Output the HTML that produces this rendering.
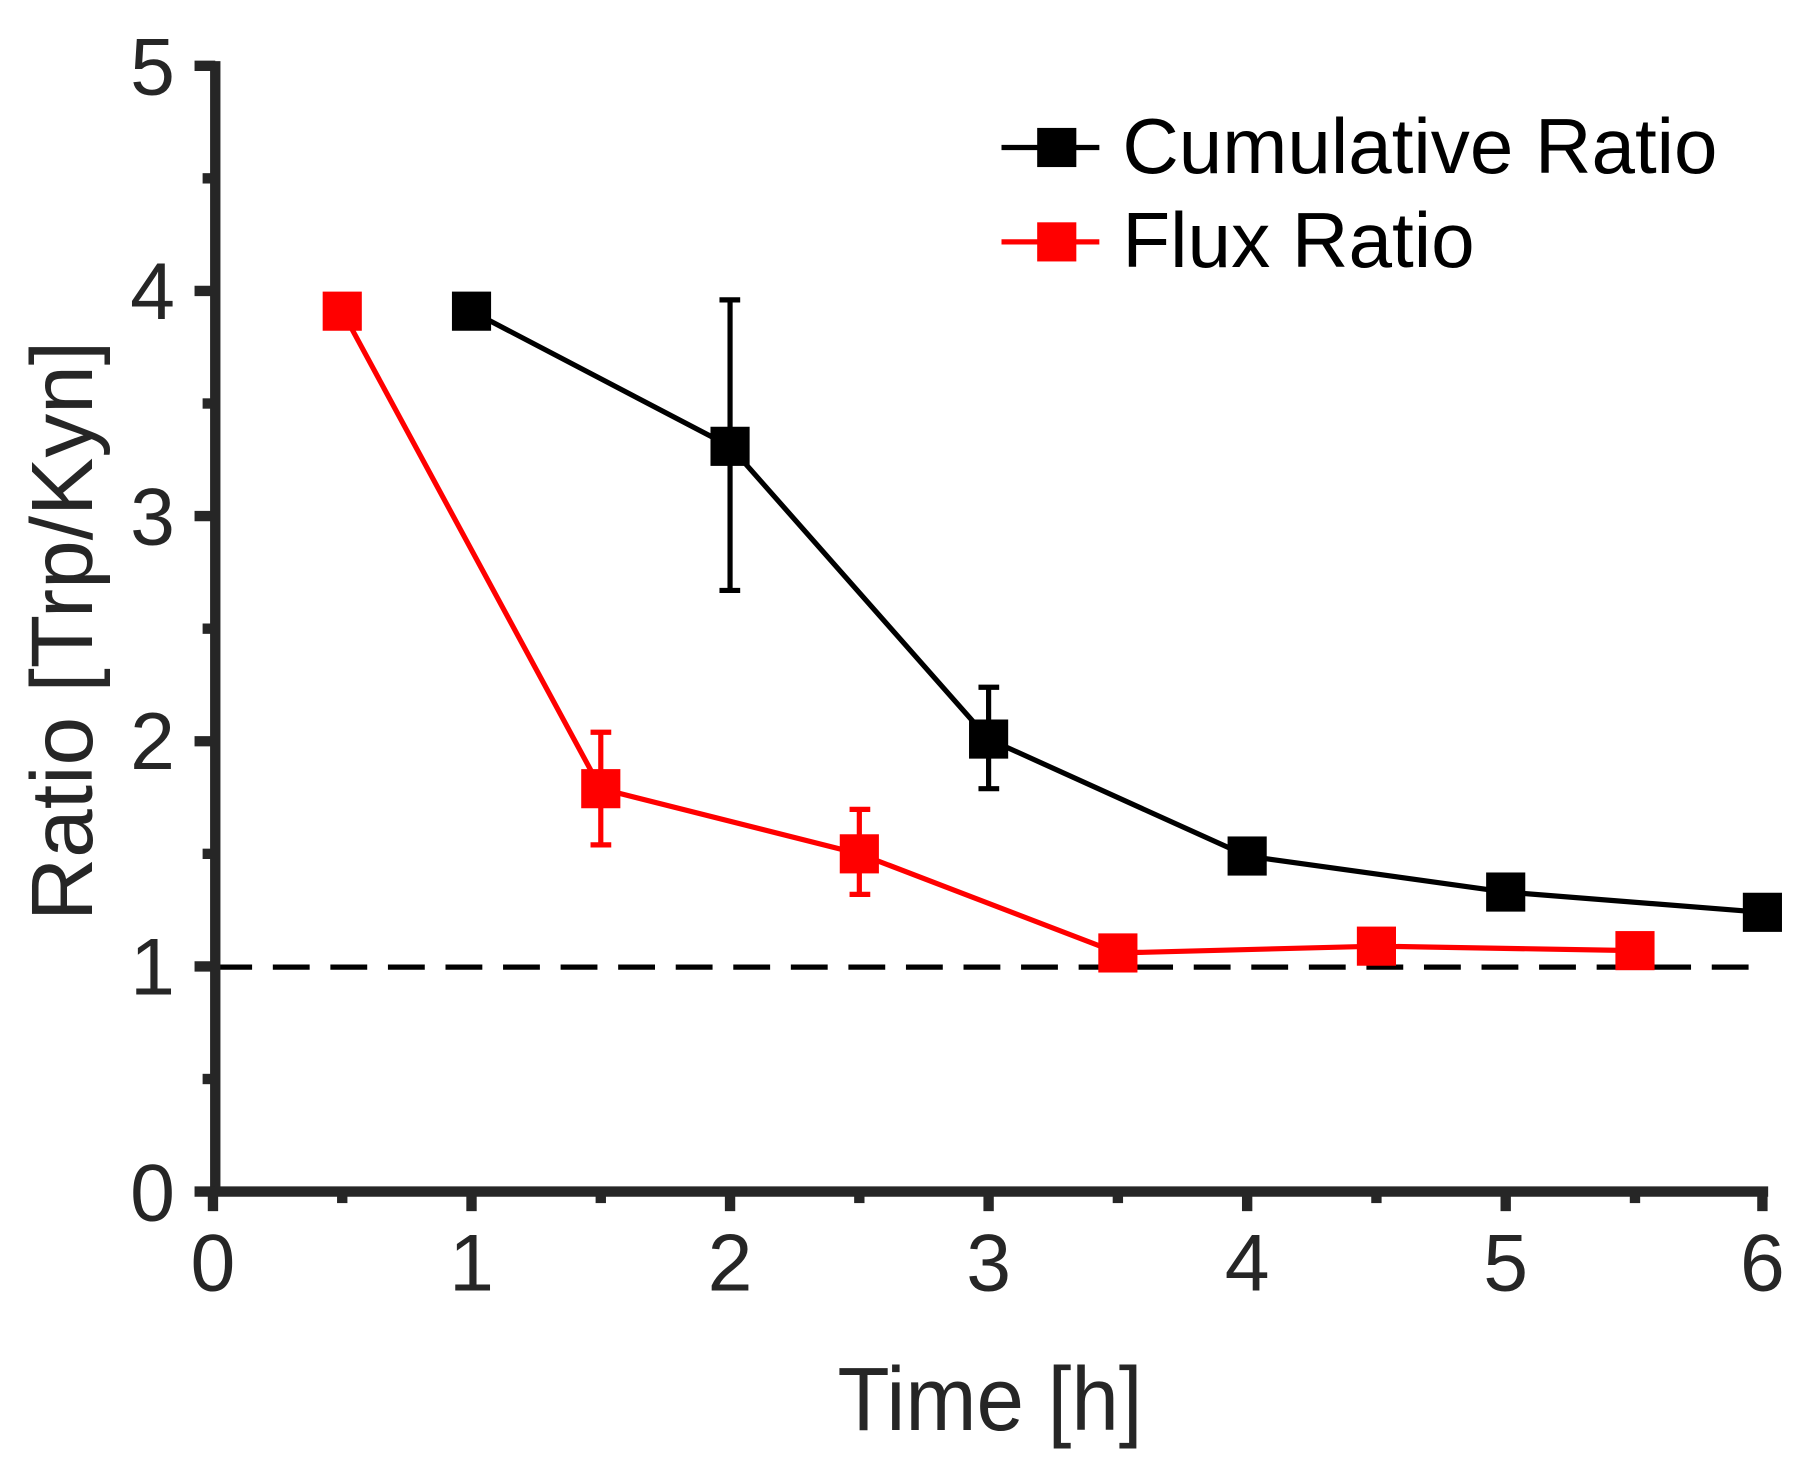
<!DOCTYPE html>
<html><head><meta charset="utf-8"><style>html,body{margin:0;padding:0;background:#fff}svg{display:block}</style></head>
<body>
<svg width="1805" height="1468" viewBox="0 0 1568 1275" xmlns="http://www.w3.org/2000/svg" font-family="Liberation Sans, Arial, sans-serif">
<rect width="1568" height="1275" fill="#fff"/>
<line x1="187" y1="840" x2="1532" y2="840" stroke="#000" stroke-width="4.5" stroke-dasharray="32,18"/>
<g stroke="#262626" stroke-width="9" fill="none">
<line x1="187" y1="53" x2="187" y2="1039"/>
<line x1="183" y1="1035" x2="1536" y2="1035"/>
<line x1="169" y1="57" x2="187" y2="57"/>
<line x1="169" y1="252.6" x2="187" y2="252.6"/>
<line x1="169" y1="448.2" x2="187" y2="448.2"/>
<line x1="169" y1="643.8" x2="187" y2="643.8"/>
<line x1="169" y1="839.4" x2="187" y2="839.4"/>
<line x1="169" y1="1035" x2="187" y2="1035"/>
<line x1="176" y1="154.8" x2="187" y2="154.8"/>
<line x1="176" y1="350.4" x2="187" y2="350.4"/>
<line x1="176" y1="546" x2="187" y2="546"/>
<line x1="176" y1="741.6" x2="187" y2="741.6"/>
<line x1="176" y1="937.2" x2="187" y2="937.2"/>
<line x1="185" y1="1035" x2="185" y2="1052"/>
<line x1="409.6" y1="1035" x2="409.6" y2="1052"/>
<line x1="634.2" y1="1035" x2="634.2" y2="1052"/>
<line x1="858.8" y1="1035" x2="858.8" y2="1052"/>
<line x1="1083.4" y1="1035" x2="1083.4" y2="1052"/>
<line x1="1308" y1="1035" x2="1308" y2="1052"/>
<line x1="1531" y1="1035" x2="1531" y2="1052"/>
<line x1="297.3" y1="1035" x2="297.3" y2="1045"/>
<line x1="521.9" y1="1035" x2="521.9" y2="1045"/>
<line x1="746.5" y1="1035" x2="746.5" y2="1045"/>
<line x1="971.1" y1="1035" x2="971.1" y2="1045"/>
<line x1="1195.7" y1="1035" x2="1195.7" y2="1045"/>
<line x1="1420.3" y1="1035" x2="1420.3" y2="1045"/>
</g>
<g fill="#262626" font-size="70" text-anchor="end">
<text x="152" y="82">5</text>
<text x="152" y="277">4</text>
<text x="152" y="473">3</text>
<text x="152" y="668">2</text>
<text x="152" y="864">1</text>
<text x="152" y="1060">0</text>
</g>
<g fill="#262626" font-size="70" text-anchor="middle">
<text x="185" y="1121">0</text>
<text x="409.6" y="1121">1</text>
<text x="634.2" y="1121">2</text>
<text x="858.8" y="1121">3</text>
<text x="1083.4" y="1121">4</text>
<text x="1308" y="1121">5</text>
<text x="1531" y="1121">6</text>
</g>
<text x="860" y="1242" font-size="78" fill="#262626" text-anchor="middle" textLength="265" lengthAdjust="spacingAndGlyphs">Time [h]</text>
<text transform="translate(80,548) rotate(-90)" font-size="76" fill="#262626" text-anchor="middle">Ratio [Trp/Kyn]</text>
<g stroke="#000" stroke-width="4.5" fill="none">
<polyline points="409.6,270.2 634.2,387.6 858.8,641.9 1083.4,743.5 1308,774.8 1531,792.4"/>
<line x1="634.2" y1="512.8" x2="634.2" y2="260.4"/>
<line x1="625" y1="512.8" x2="643" y2="512.8"/>
<line x1="625" y1="260.4" x2="643" y2="260.4"/>
<line x1="858.8" y1="685" x2="858.8" y2="596.9"/>
<line x1="850" y1="685" x2="868" y2="685"/>
<line x1="850" y1="596.9" x2="868" y2="596.9"/>
</g>
<g fill="#000">
<rect x="392.6" y="253.2" width="34" height="34"/>
<rect x="617.2" y="370.6" width="34" height="34"/>
<rect x="841.8" y="624.9" width="34" height="34"/>
<rect x="1066.4" y="726.5" width="34" height="34"/>
<rect x="1291" y="757.8" width="34" height="34"/>
<rect x="1514" y="775.4" width="34" height="34"/>
</g>
<g stroke="#f00" stroke-width="4.5" fill="none">
<polyline points="297.3,270.2 521.9,685 746.5,741.6 971.1,827.7 1195.7,821.8 1420.3,825.7"/>
<line x1="521.9" y1="733.8" x2="521.9" y2="636"/>
<line x1="513" y1="733.8" x2="531" y2="733.8"/>
<line x1="513" y1="636" x2="531" y2="636"/>
<line x1="746.5" y1="776.8" x2="746.5" y2="703"/>
<line x1="738" y1="776.8" x2="756" y2="776.8"/>
<line x1="738" y1="703" x2="756" y2="703"/>
</g>
<g fill="#f00">
<rect x="280.3" y="253.2" width="34" height="34"/>
<rect x="504.9" y="668" width="34" height="34"/>
<rect x="729.5" y="724.6" width="34" height="34"/>
<rect x="954.1" y="810.7" width="34" height="34"/>
<rect x="1178.7" y="804.8" width="34" height="34"/>
<rect x="1403.3" y="808.7" width="34" height="34"/>
</g>
<line x1="870" y1="128" x2="955" y2="128" stroke="#000" stroke-width="4.5"/>
<rect x="901" y="111" width="34" height="34" fill="#000"/>
<text x="975" y="150" font-size="68" fill="#000" textLength="517" lengthAdjust="spacingAndGlyphs">Cumulative Ratio</text>
<line x1="870" y1="210" x2="955" y2="210" stroke="#f00" stroke-width="4.5"/>
<rect x="901" y="193" width="34" height="34" fill="#f00"/>
<text x="975" y="232" font-size="68" fill="#000" textLength="306" lengthAdjust="spacingAndGlyphs">Flux Ratio</text>
</svg>
</body></html>
